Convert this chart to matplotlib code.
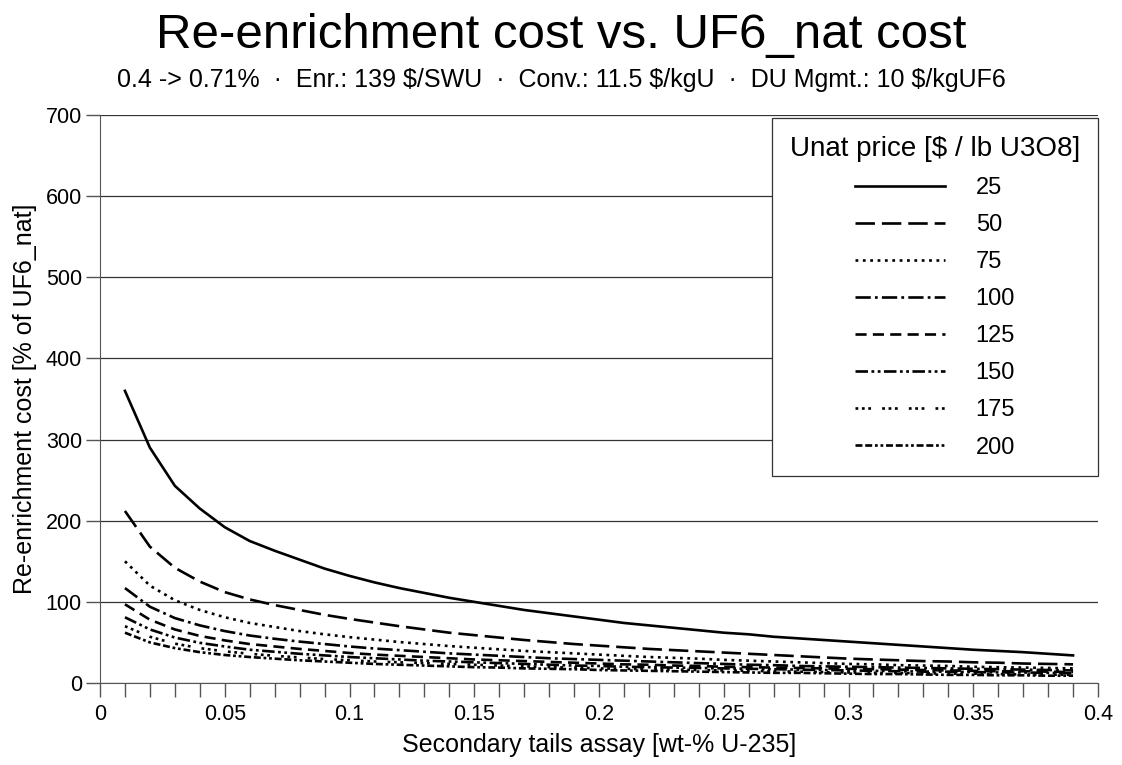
import matplotlib
matplotlib.use("Agg")
import matplotlib.pyplot as plt
import numpy as np

plt.rcParams['font.family'] = ['Liberation Sans', 'DejaVu Sans']
plt.rcParams['lines.scale_dashes'] = False

tails_assay = [round(0.01 * i, 2) for i in range(1, 40)]
prices = ["25", "50", "75", "100", "125", "150", "175", "200"]

cost_25 = [360, 290, 243, 215, 192, 175, 163, 152, 141, 132, 124, 117, 111, 105, 100, 95, 90, 86, 82, 78,
           74, 71, 68, 65, 62, 60, 57, 55, 53, 51, 49, 47, 45, 43, 41, 39.5, 38, 36, 34]
cost_50 = [212, 168, 142, 125, 112, 103, 96, 90, 84, 79, 74.5, 70, 66, 62, 59, 56, 53, 50.5, 48, 46,
           44, 42, 40.5, 39, 37.5, 36, 34.5, 33, 31.5, 30, 29, 28, 27, 26.5, 25.5, 25, 24, 23.5, 23]
cost_75 = [150, 120, 102, 90, 81, 74, 69, 64, 60, 56.5, 53.5, 50.5, 48, 45.5, 43.5, 41.5, 39.5, 38, 36.5, 35,
           33.5, 32, 31, 30, 28.5, 27.5, 26.5, 25.5, 24.5, 23.5, 23, 22, 21.5, 21, 20, 19.5, 19, 18.5, 18]
cost_100 = [117, 94, 80, 71, 64, 58.5, 54.5, 51, 48, 45, 42.5, 40.5, 38.5, 36.5, 35, 33.5, 32, 30.5, 29.5, 28.5,
            27.5, 26.5, 25.5, 24.5, 23.5, 22.5, 22, 21, 20.5, 20, 19.5, 19, 18.5, 18, 17.5, 17, 16.5, 16, 15.5]
cost_125 = [97, 78, 66, 58, 52.5, 48, 45, 42, 39.5, 37, 35, 33.5, 32, 30.5, 29, 28, 27, 26, 25, 24,
            23, 22.5, 21.5, 21, 20, 19.5, 19, 18.5, 18, 17.5, 17, 16.5, 16, 15.5, 15, 14.5, 14.5, 14, 13.5]
cost_150 = [81, 66, 56, 49.5, 45, 41, 38.5, 36, 34, 32, 30.5, 29, 27.5, 26.5, 25.5, 24.5, 23.5, 22.5, 21.5, 21,
            20, 19.5, 19, 18.5, 18, 17.5, 17, 16.5, 16, 15.5, 15, 14.5, 14, 14, 13.5, 13, 13, 12.5, 12]
cost_175 = [70, 57, 48.5, 43, 39, 36, 33.5, 31.5, 29.5, 28, 26.5, 25.5, 24.5, 23.5, 22.5, 21.5, 20.5, 19.5, 19, 18,
            17.5, 17, 16.5, 16, 15.5, 15, 14.5, 14, 13.5, 13, 12.5, 12.5, 12, 11.5, 11.5, 11, 10.5, 10.5, 10]
cost_200 = [62, 50, 43, 38, 34.5, 32, 30, 28, 26.5, 25, 23.5, 22.5, 21.5, 20.5, 19.5, 19, 18, 17.5, 17, 16,
            15.5, 15, 14.5, 14, 13.5, 13, 12.5, 12.5, 12, 11.5, 11, 11, 10.5, 10, 10, 9.5, 9.5, 9, 9]

series = [cost_25, cost_50, cost_75, cost_100, cost_125, cost_150, cost_175, cost_200]
styles = [
    '-',
    (0, (14, 5)),
    (0, (2, 3.3)),
    (0, (11, 3, 2, 3)),
    (0, (8, 4.5)),
    (0, (9, 2.5, 2, 2.5, 2, 2.5)),
    (0, (2, 2.6, 2, 2.6, 2, 8)),
    (0, (5, 2, 5, 2, 2, 2, 2, 2)),
]

W, H = 1122, 765
fig = plt.figure(figsize=(W / 100, H / 100), dpi=100)
ax = fig.add_axes([100 / W, 1 - 683 / H, 998 / W, (683 - 115) / H])

for vals, ls, lab in zip(series, styles, prices):
    ax.plot(tails_assay, vals, color='black', lw=1.9, linestyle=ls, label=lab)

ax.set_xlim(0, 0.4)
ax.set_ylim(0, 700)
ax.set_yticks(np.arange(0, 701, 100))
ax.set_xticks(np.arange(0, 0.4001, 0.05))
ax.set_xticklabels(["0", "0.05", "0.1", "0.15", "0.2", "0.25", "0.3", "0.35", "0.4"])
ax.set_xticks(np.arange(0, 0.4001, 0.01), minor=True)
ax.tick_params(axis='both', which='both', direction='out', color='#555555', labelsize=15.5)
ax.tick_params(axis='x', which='both', length=10, width=1)
ax.tick_params(axis='y', which='major', length=10, width=1, pad=3)
ax.tick_params(axis='x', which='major', pad=5)
ax.yaxis.grid(True, color='#333333', lw=0.9)
ax.set_axisbelow(True)
for s in ['top', 'right']:
    ax.spines[s].set_visible(False)
for s in ['left', 'bottom']:
    ax.spines[s].set_color('#555555')

ax.set_xlabel("Secondary tails assay [wt-% U-235]", fontsize=18, labelpad=6)
ax.set_ylabel("Re-enrichment cost [% of UF6_nat]", fontsize=18, labelpad=6)

leg = ax.legend(title="Unat price [$ / lb U3O8]", loc='upper right',
                bbox_to_anchor=(1098 / W, 1 - 118 / H), bbox_transform=fig.transFigure,
                fontsize=17, title_fontsize=20, handlelength=3.8, handletextpad=1.3,
                labelspacing=0.64, borderpad=0.75, borderaxespad=0, fancybox=False, framealpha=1,
                edgecolor='#333333', alignment='center')
leg.get_frame().set_linewidth(0.9)

fig.text(0.5, 1 - 48 / H, "Re-enrichment cost vs. UF6_nat cost", ha='center', va='baseline', fontsize=35.5)
fig.text(0.5, 1 - 87 / H,
         "0.4 -> 0.71%  \u00b7  Enr.: 139 $/SWU  \u00b7  Conv.: 11.5 $/kgU  \u00b7  DU Mgmt.: 10 $/kgUF6",
         ha='center', va='baseline', fontsize=18)

fig.savefig("out.png", dpi=100)
